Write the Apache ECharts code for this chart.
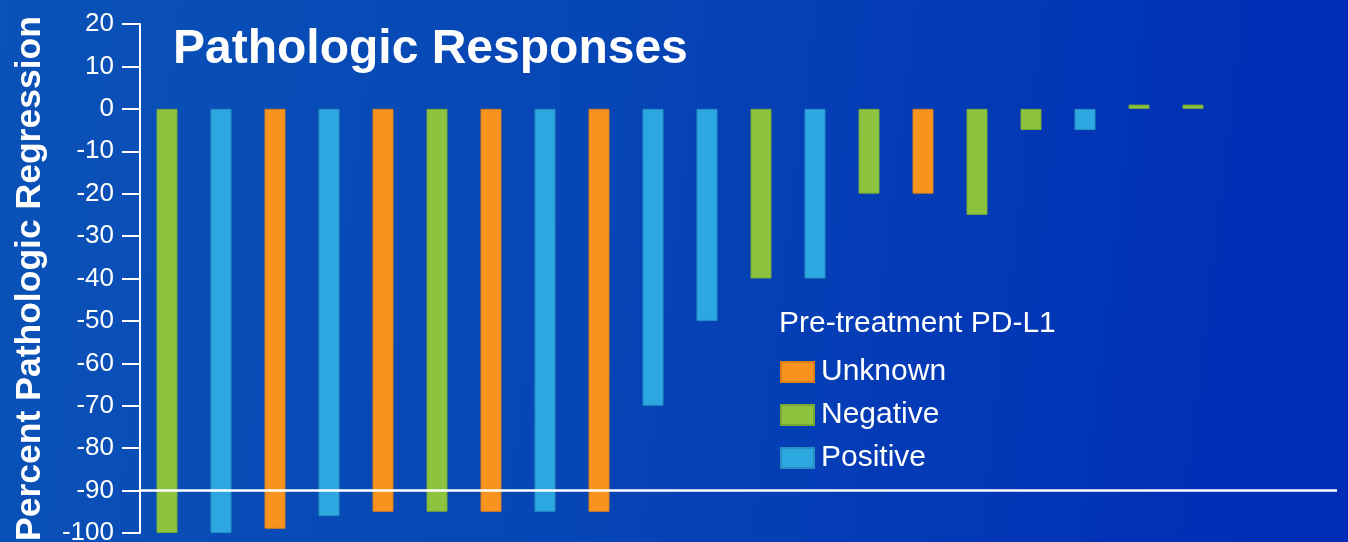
<!DOCTYPE html>
<html>
<head>
<meta charset="utf-8">
<title>Pathologic Responses</title>
<script src="https://cdn.jsdelivr.net/npm/echarts@6/dist/echarts.min.js"></script>
<style>
  html, body { margin: 0; padding: 0; }
  #chart { width: 1348px; height: 542px; }
</style>
</head>
<body>
<div id="chart"></div>
<script>
// 数据
var patients = [1, 2, 3, 4, 5, 6, 7, 8, 9, 10, 11, 12, 13, 14, 15, 16, 17, 18, 19, 20];
var pdl1 = ['Negative', 'Positive', 'Unknown', 'Positive', 'Unknown', 'Negative', 'Unknown', 'Positive', 'Unknown', 'Positive',
            'Positive', 'Negative', 'Positive', 'Negative', 'Unknown', 'Negative', 'Negative', 'Positive', 'Negative', 'Negative'];
var regression = [-100, -100, -99, -96, -95, -95, -95, -95, -95, -70, -50, -40, -40, -20, -20, -25, -5, -5, 1, 1];
var groups = ['Unknown', 'Negative', 'Positive'];
var yTicks = [20, 10, 0, -10, -20, -30, -40, -50, -60, -70, -80, -90, -100];
var threshold = -90;

(function () {
  var myChart = echarts.init(document.getElementById('chart'));
  var groupColor = { Unknown: '#F7931E', Negative: '#8DC33F', Positive: '#2CA7DF' };
  var groupBorder = { Unknown: '#d9801a', Negative: '#78a836', Positive: '#2690c4' };

  // 每组一个系列，其它位置留空
  var series = groups.map(function (g) {
    return {
      name: g,
      type: 'bar',
      barWidth: 21,
      barGap: '-100%',
      itemStyle: {
        color: groupColor[g],
        borderColor: groupBorder[g],
        borderWidth: 1
      },
      data: patients.map(function (p, i) {
        return pdl1[i] === g ? [p, regression[i]] : [p, null];
      })
    };
  });
  // -90 参考线
  series[0].markLine = {
    silent: true,
    symbol: 'none',
    label: { show: false },
    lineStyle: { color: '#ffffff', width: 2.5, type: 'solid' },
    data: [{ yAxis: threshold }]
  };

  var option = {
    backgroundColor: new echarts.graphic.LinearGradient(0, 0, 1, 0.3, [
      { offset: 0, color: '#0a52b7' },
      { offset: 0.5, color: '#0644b5' },
      { offset: 1, color: '#002cb6' }
    ]),
    textStyle: { fontFamily: 'Liberation Sans, Arial, sans-serif' },
    animation: false,
    title: [
      {
        text: 'Pathologic Responses',
        left: 168,
        top: 21,
        textStyle: { color: '#fff', fontSize: 48, fontWeight: 'bold', fontFamily: 'Liberation Sans, Arial, sans-serif' }
      },
      {
        text: 'Pre-treatment PD-L1',
        left: 774,
        top: 304,
        textStyle: { color: '#fff', fontSize: 30, fontWeight: 'normal', fontFamily: 'Liberation Sans, Arial, sans-serif' }
      }
    ],
    legend: {
      data: groups,
      orient: 'vertical',
      left: 775,
      top: 352,
      itemWidth: 33,
      itemHeight: 20,
      itemGap: 13,
      icon: 'rect',
      textStyle: { color: '#fff', fontSize: 30, padding: [0, 0, 0, 2], fontFamily: 'Liberation Sans, Arial, sans-serif' }
    },
    grid: {
      left: 140,
      right: 11,
      top: 24,
      bottom: 9,
      containLabel: false,
      outerBoundsMode: 'none'
    },
    xAxis: {
      type: 'value',
      min: 0.5,
      max: 0.5 + 1197 / 54,
      show: false
    },
    yAxis: {
      type: 'value',
      min: yTicks[yTicks.length - 1],
      max: yTicks[0],
      interval: 10,
      name: 'Percent Pathologic Regression',
      nameLocation: 'middle',
      nameRotate: 90,
      nameGap: 92,
      nameTextStyle: { color: '#fff', fontSize: 35.5, fontWeight: 'bold', fontFamily: 'Liberation Sans, Arial, sans-serif' },
      axisLine: { show: true, lineStyle: { color: '#fff', width: 2 } },
      axisTick: { show: true, length: 18, lineStyle: { color: '#fff', width: 2 } },
      axisLabel: { color: '#fff', fontSize: 26, margin: 26 },
      splitLine: { show: false }
    },
    series: series
  };

  myChart.setOption(option);
  window.addEventListener('resize', () => myChart.resize());
})();
</script>
</body>
</html>
